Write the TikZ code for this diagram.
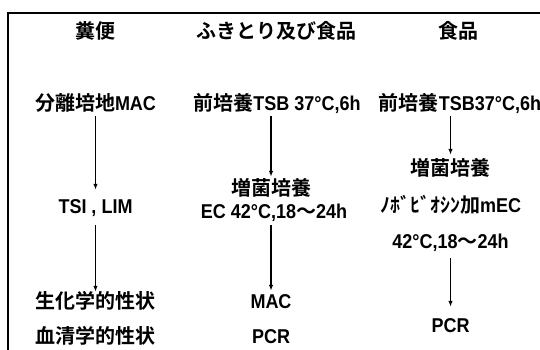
\documentclass[tikz,border=0pt]{standalone}
\usepackage{fontspec}
\newfontfamily\jp{Noto Sans CJK JP}[BoldFont={Noto Sans CJK JP Bold}]
\newfontfamily\latf{Liberation Sans}[FakeStretch=0.9]
\newcommand\lt[1]{{\latf\fontsize{20}{20}\selectfont #1}}
\usetikzlibrary{arrows.meta}
\begin{document}
\begin{tikzpicture}[x=1pt,y=-1pt,
  lbl/.style={font=\jp\bfseries\fontsize{20}{20}\selectfont, inner sep=0pt,
    text height=15pt, text depth=4pt, anchor=center},
  flow/.style={line width=1.3pt, -{Latex[length=6pt,width=4.5pt]}}]
\useasboundingbox (0,0) rectangle (540,349);
\clip (0,0) rectangle (540,349);
\draw[line width=2pt] (7.5,360) -- (7.5,13) -- (550,13);
% column 1
\node[lbl] (h1) at (95,33) {糞便};
\node[lbl] (a1) at (95.5,105) {分離培地\lt{MAC}};
\node[lbl] (b1) at (95.5,208) {\lt{TSI , LIM}};
\node[lbl] (c1) at (95.5,303) {生化学的性状};
\node[lbl] (d1) at (95,338) {血清学的性状};
% column 2
\node[lbl] (h2) at (276,33) {ふきとり及び食品};
\node[lbl] (a2) at (277,105) {前培養\lt{TSB 37°C,6h}};
\node[lbl] (b2) at (271,190) {増菌培養};
\node[lbl] (b2x) at (274,213) {\lt{EC 42°C,18}〜\lt{24h}};
\node[lbl] (c2) at (271,303) {\lt{MAC}};
\node[lbl] (d2) at (271,338) {\lt{PCR}};
% column 3
\node[lbl] (h3) at (458,33) {食品};
\node[lbl] (a3) at (460,105) {前培養\lt{TSB37°C,6h}};
\node[lbl] (b3) at (450.5,170) {増菌培養};
\node[lbl] (b3x) at (450.5,207) {ﾉﾎﾞﾋﾞｵｼﾝ加\lt{mEC}};
\node[lbl] (b3y) at (450.5,243) {\lt{42°C,18}〜\lt{24h}};
\node[lbl] (c3) at (450.5,327) {\lt{PCR}};
% arrows
\draw[flow, shorten <=1.5pt, shorten >=8.5pt] (a1.south) -- (b1.north);
\draw[flow, shorten <=7.5pt, shorten >=1.5pt] (b1.south) -- (c1.north);
\draw[flow, shorten <=1.5pt, shorten >=3.5pt] (b2.north |- a2.south) -- (b2.north);
\draw[flow, shorten <=2.5pt, shorten >=2.5pt] (c2.north |- b2x.south) -- (c2.north);
\draw[flow, shorten <=1.5pt, shorten >=5.5pt] (b3.north |- a3.south) -- (b3.north);
\draw[flow, shorten <=5.5pt, shorten >=10.5pt] (b3y.south) -- (c3.north);
\end{tikzpicture}
\end{document}
